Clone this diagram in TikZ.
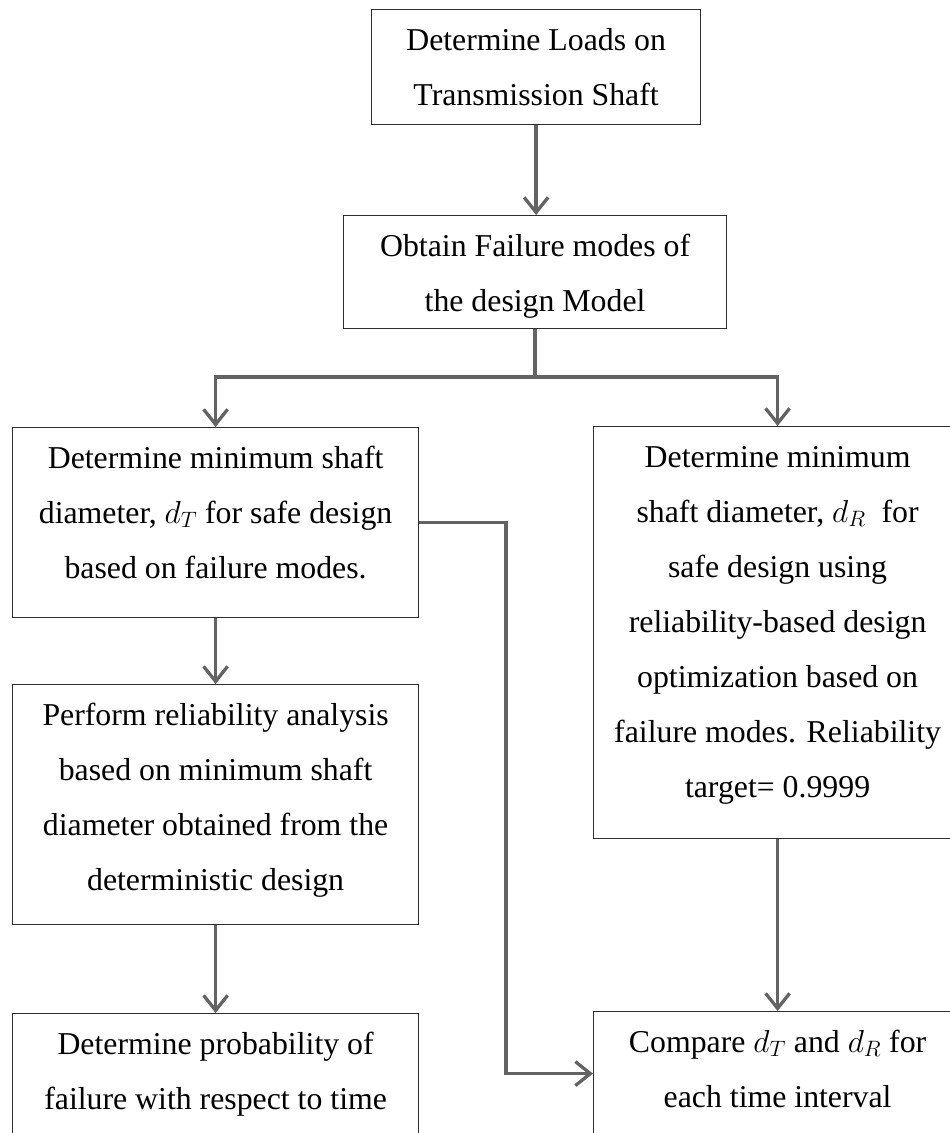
\documentclass[tikz,border=0pt]{standalone}
\usepackage{fix-cm}
\usepackage{fontspec}
\setmainfont{Liberation Serif}
\usetikzlibrary{arrows.meta}

\definecolor{linkgray}{HTML}{636363}
\definecolor{edgegray}{HTML}{2E2E2E}

% top-aligned, centred block of lines of a fixed height and width
\newcommand\boxlines[3]{%
  \parbox[c][#1][t]{#2}{\centering\fontsize{31.8}{55}\selectfont
    \vspace*{2pt}\strut#3}}

\tikzset{
  stepbox/.style={draw=edgegray, line width=1.2pt, inner sep=0pt,
                  anchor=north west},
  link/.style={draw=linkgray, line width=3.3pt},
  flow/.style={link, -{Straight Barb[length=15pt, width=24pt]}}
}

\begin{document}
\begin{tikzpicture}[x=1pt, y=-1pt]
  \useasboundingbox (0,0) rectangle (950,1133);
  \clip (0,0) rectangle (950,1133);

  % process boxes
  \node[stepbox] (b1) at (371,9)
    {\boxlines{115pt}{329pt}{Determine Loads on\\Transmission Shaft}};
  \node[stepbox] (b2) at (343,215)
    {\boxlines{113pt}{383pt}{Obtain Failure modes of\\the design Model}};
  \node[stepbox] (b3) at (12,427)
    {\boxlines{190pt}{406pt}{Determine minimum shaft\\
      diameter, $d_T$ for safe design\\based on failure modes.}};
  \node[stepbox] (b4) at (12,684)
    {\boxlines{240pt}{406pt}{Perform reliability analysis\\
      based on minimum shaft\\diameter obtained from the\\
      deterministic design}};
  \node[stepbox] (b5) at (12,1013)
    {\boxlines{124pt}{406pt}{Determine probability of\\
      failure with respect to time}};
  \node[stepbox] (bR) at (593,426)
    {\boxlines{412pt}{368pt}{Determine minimum\\
      shaft diameter, $d_R$\ \ for\\safe design using\\
      reliability-based design\\optimization based on\\
      failure modes. Reliability\\target= 0.9999}};
  \node[stepbox] (b6) at (593,1011)
    {\boxlines{124pt}{368pt}{Compare $d_T$ and $d_R$ for\\
      each time interval}};

  % helper coordinates for the routed connectors
  \coordinate (ylevel) at (0,377);
  \coordinate (split) at (b2.south |- ylevel);
  \coordinate (bypass) at (506,0);

  % connectors
  \draw[flow] (b1.south) -- (b1.south |- b2.north);
  \draw[link] (b2.south) -- (split);
  \draw[flow] (split) -| (b3.north);
  \draw[flow] (split) -| (bR.north);
  \draw[flow] (b3.south) -- (b4.north);
  \draw[flow] (b4.south) -- (b5.north);
  \draw[flow] (bR.south) -- (bR.south |- b6.north);
  \draw[flow] (b3.east) -- (b3.east -| bypass) |- (b6.west);
\end{tikzpicture}
\end{document}
